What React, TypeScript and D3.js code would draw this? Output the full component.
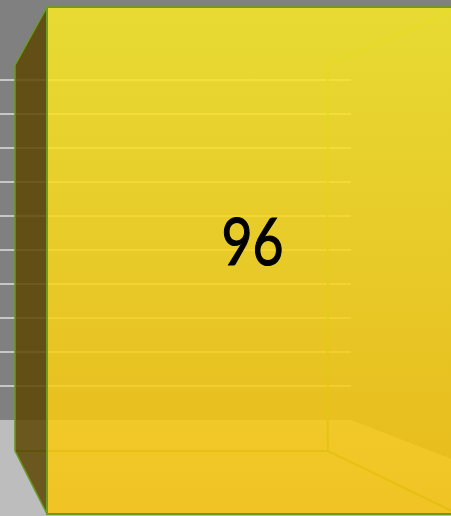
import React from "react";
import * as d3 from "d3";

// chart data
const categories = ["Value"];
const values = [96];
const gridTicks = [10, 20, 30, 40, 50, 60, 70, 80, 90, 100];
const valueDomain = [0, 100];

const W = 451, H = 516;

// perspective setup (front plane -> receding planes)
const vp = { x: -87, y: 250 };
const barDepth = 0.761;   // scale of the bar's back face
const wallDepth = 0.644;  // scale of the back wall
const wallRight = 593;    // right edge of back wall in front-plane units

const project = (x: number, y: number, s: number): [number, number] => [
  vp.x + (x - vp.x) * s,
  vp.y + (y - vp.y) * s,
];

const pts = (p: [number, number][]) => p.map(d => d.join(",")).join(" ");

export default function App() {
  const yScale = d3.scaleLinear()
    .domain(valueDomain)
    .range([514, 514 - 100 * (507 / 96)]);

  const xScale = d3.scaleBand()
    .domain(categories)
    .range([47, 458])
    .padding(0);

  const y0 = yScale(0);

  // floor
  const floor: [number, number][] = [
    project(-400, y0, wallDepth),
    project(wallRight, y0, wallDepth),
    project(wallRight, y0, 1.3),
    [W + 300, H + 100],
    [-400, H + 100],
  ];

  const edge = "#6c9b24";

  return (
    <svg width={W} height={H} style={{ position: "fixed", left: 0, top: 0 }}
      fontFamily="Lato, 'Open Sans', sans-serif">
      <defs>
        <linearGradient id="barFill" gradientUnits="userSpaceOnUse" x1="0" y1="7" x2="0" y2="514">
          <stop offset="0" stopColor="#faea26" />
          <stop offset="1" stopColor="#fac40a" />
        </linearGradient>
      </defs>
      <rect x={0} y={0} width={W} height={H} fill="#808080" />
      <polygon points={pts(floor)} fill="#bdbdbd" />

      {gridTicks.map(t => {
        const a = project(-400, yScale(t), wallDepth);
        const b = project(wallRight, yScale(t), wallDepth);
        return (
          <line key={t} x1={a[0]} y1={a[1]} x2={b[0]} y2={b[1]}
            stroke="#d4d4d4" strokeWidth={2} opacity={0.85} />
        );
      })}

      {values.map((v, i) => {
        const x0 = xScale(categories[i])!;
        const x1 = x0 + xScale.bandwidth();
        const yt = yScale(v);
        const yb = yScale(0);
        const bTL = project(x0, yt, barDepth);
        const bBL = project(x0, yb, barDepth);
        const bTR = project(x1, yt, barDepth);
        const bBR = project(x1, yb, barDepth);
        const label = project((x0 + x1) / 2, yScale(v / 2), 1);
        return (
          <g key={i}>
            {/* hidden edges seen through the bar */}
            <g stroke={edge} strokeWidth={2} fill="none">
              <line x1={bBL[0]} y1={bBL[1]} x2={bBR[0]} y2={bBR[1]} />
              <line x1={bTR[0]} y1={bTR[1]} x2={bBR[0]} y2={bBR[1]} />
              <line x1={bTR[0]} y1={bTR[1]} x2={x1} y2={yt} />
              <line x1={bBR[0]} y1={bBR[1]} x2={x1} y2={yb} />
            </g>
            <polygon points={pts([[x0, yt], bTL, bBL, [x0, yb]])}
              fill="#5c4604" fillOpacity={0.85} stroke={edge} strokeWidth={1.5} />
            <rect x={x0} y={yt} width={x1 - x0} height={yb - yt}
              fill="url(#barFill)" fillOpacity={0.85} stroke={edge} strokeWidth={2} />
            <text x={label[0]} y={label[1] + 4} textAnchor="middle"
              fontSize={65} fill="#000" stroke="#000" strokeWidth={1.2}
              textLength={62} lengthAdjust="spacingAndGlyphs">{v}</text>
          </g>
        );
      })}
    </svg>
  );
}
